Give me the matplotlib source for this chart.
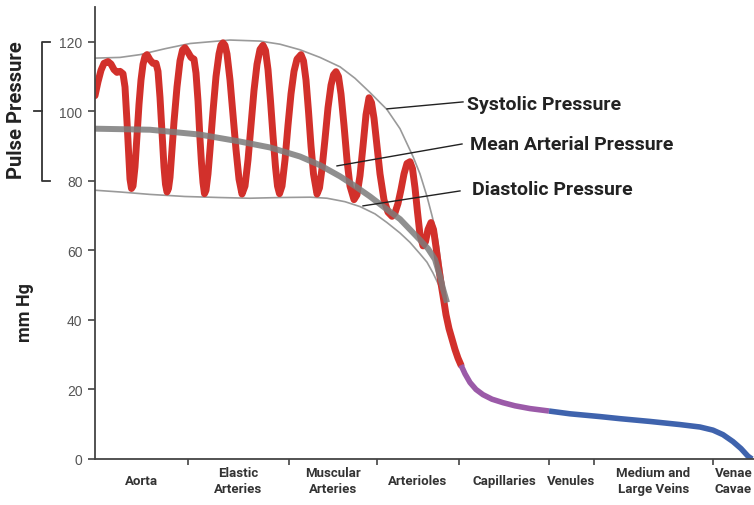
import matplotlib
matplotlib.use('Agg')
import matplotlib.pyplot as plt

# x positions are read in reference pixels (axis runs 95..754), y in mmHg
red_x = [95, 98, 101, 104, 108, 111, 114, 117, 120, 123,
         125, 127, 129, 130, 131.5, 133,
         135, 137, 139, 141, 143, 145, 147,
         150, 153, 156, 158,
         160, 162, 164, 165.5, 167, 168.5,
         170, 172, 174, 177, 180, 182.5, 185,
         188, 191, 194, 196,
         198, 200, 201.5, 203, 204.5, 206,
         208, 210, 213, 216, 219, 221, 223,
         225, 227, 230, 233, 236, 239, 242,
         245, 248, 251, 254, 257, 260, 263,
         265.5, 268, 270.5, 273, 275.5, 277.5, 279.5,
         282, 285, 288, 291, 294, 297, 301,
         303.5, 306, 308.5, 311, 313.5, 317,
         319.5, 322, 325, 328, 331, 333.5, 336,
         338.5, 341, 344, 347, 350, 354,
         357, 360, 363, 366, 369,
         371.5, 374, 377, 380, 384, 388, 392,
         395, 398, 401, 404, 407, 410,
         412.5, 415, 417.5, 420, 423,
         425.5, 428, 431,
         433.5, 436, 438.5, 441, 443, 446, 449, 452, 455, 458, 461]
red_y = [104.5, 108.5, 111.8, 113.8, 114.3, 113.6, 112, 111.2, 111.5, 110.8,
         107, 97, 86, 80.5, 77.8, 78.5,
         84, 93, 102, 109, 113.5, 115.8, 116.3,
         114.8, 113.8, 113.8, 111.5,
         104, 94, 84, 79, 76.8, 77.8,
         81, 89, 97, 107, 114.5, 117.6, 118.3,
         117, 115.5, 115, 111,
         103, 92, 85, 79.5, 76.3, 77.3,
         82, 89, 100, 110, 116.5, 119, 119.7,
         119, 116.5, 109, 99, 89, 80.5, 76.2,
         78.5, 86, 96, 106, 113.5, 117.8, 119,
         117.5, 112, 103, 93, 84, 78.5, 76.3,
         78.5, 86, 96, 105, 111.5, 115, 116.3,
         114.5, 109, 100, 90, 82, 76.2,
         78, 83.5, 92, 101, 107.5, 110.5, 111.4,
         110, 105, 96, 86, 78.5, 74.6,
         76, 81.5, 90, 99, 103.9,
         102.5, 98, 90, 82, 74.5, 71, 69.8,
         70.8, 73.5, 77.5, 82, 85, 85.5,
         83.5, 78, 71, 64.5, 61.3,
         62.5, 66, 68,
         66, 61, 55.5, 50.5, 47, 41.5, 37.5, 34.5, 31.5, 29, 27]

purple_x = [461, 465, 470, 476, 483, 492, 503, 515, 530, 549]
purple_y = [27, 24.5, 22, 20, 18.5, 17.2, 16.2, 15.3, 14.5, 13.8]

blue_x = [549, 570, 600, 620, 650, 680, 700, 713, 723, 733, 741, 748, 752]
blue_y = [13.8, 13, 12.2, 11.6, 10.8, 9.9, 9.2, 8.3, 7, 5, 3, 0.8, 0]

sys_x = [95, 120, 140, 165, 190, 230, 260, 280, 300, 320, 340, 355, 370, 387, 400, 413, 420, 427,
         432, 437, 440, 443, 446]
sys_y = [115.3, 115.5, 116.3, 118, 119.5, 120.5, 120.2, 119.3, 117.7, 115.5, 112.8, 109.5, 105.4,
         100.5, 95, 87, 82, 75.5, 70, 64, 58, 52, 46]

dia_x = [95, 120, 150, 185, 220, 250, 280, 310, 327, 345, 360, 375, 387, 400, 410, 420, 427, 433,
         438, 442, 446]
dia_y = [77.3, 76.8, 76.1, 75.5, 75.2, 75.0, 75.2, 75.3, 75.0, 74, 72.6, 70.5, 68, 65, 62.3, 59,
         56.6, 53.5, 50.5, 48, 46]

map_x = [95, 150, 200, 240, 270, 300, 320, 340, 355, 370, 385, 400, 410, 420, 428, 435, 440, 443, 447]
map_y = [95, 94.7, 93.3, 91.3, 89.6, 87, 84.5, 81.3, 78.5, 75.5, 72.2, 69, 66, 63, 60.5, 57.4,
         52.5, 49, 45]

vessels = ['Aorta', 'Elastic\nArteries', 'Muscular\nArteries', 'Arterioles', 'Capillaries',
           'Venules', 'Medium and\nLarge Veins', 'Venae\nCavae']
bounds = [95, 188, 289, 377, 459, 549, 594, 713, 754]

fig = plt.figure(figsize=(7.54, 5.06), dpi=100)
ax = fig.add_axes([95 / 754, 46 / 506, 659 / 754, 452 / 506])

ax.plot(sys_x, sys_y, color='#9a9a9a', lw=1.2)
ax.plot(dia_x, dia_y, color='#9a9a9a', lw=1.2)
ax.plot(red_x, red_y, color='#d2302b', lw=5, solid_joinstyle='round', solid_capstyle='round')
ax.plot(map_x, map_y, color='#7c7c7c', lw=4.3, alpha=0.85, solid_capstyle='butt')
ax.plot(purple_x, purple_y, color='#9b5aa8', lw=4, solid_capstyle='butt')
ax.plot(blue_x, blue_y, color='#3f63ad', lw=4, solid_capstyle='butt')

ax.set_xlim(95, 754)
ax.set_ylim(0, 130)

for s in ['top', 'right']:
    ax.spines[s].set_visible(False)
for s in ['left', 'bottom']:
    ax.spines[s].set_color('#444444')
    ax.spines[s].set_linewidth(1.3)

ax.set_yticks(range(0, 121, 20))
ax.tick_params(axis='y', length=5, width=1.2, color='#444444', labelcolor='#555555',
               labelsize=10, pad=4)
for lab in ax.get_yticklabels():
    lab.set_family('Liberation Sans')
ax.set_xticks(bounds[1:-1])
ax.set_xticklabels([])
ax.tick_params(axis='x', length=4, width=1.2, color='#444444')

# vessel names between the tick marks
for i, name in enumerate(vessels):
    xc = (bounds[i] + bounds[i + 1]) / 2
    ax.text(xc, -22 / 452, name, transform=ax.get_xaxis_transform(), ha='center', va='center',
            fontsize=9.5, fontweight='bold', family='Roboto', color='#333333', linespacing=1.3)

# leader lines and their labels
ax.plot([387, 463], [100.7, 102.7], color='#222222', lw=1)
ax.plot([337, 462], [84.3, 90.6], color='#222222', lw=1)
ax.plot([363, 460], [72.8, 77.1], color='#222222', lw=1)
ax.text(467, 102.1, 'Systolic Pressure', ha='left', va='center', fontsize=14,
        fontweight='bold', family='Roboto', color='#222222')
ax.text(470, 90.6, 'Mean Arterial Pressure', ha='left', va='center', fontsize=14,
        fontweight='bold', family='Roboto', color='#222222')
ax.text(472, 77.7, 'Diastolic Pressure', ha='left', va='center', fontsize=14,
        fontweight='bold', family='Roboto', color='#222222')

# pulse pressure bracket
ax.plot([50, 42, 42, 50], [120, 120, 80, 80], color='#333333', lw=1.3, clip_on=False)
ax.plot([34, 42], [100, 100], color='#333333', lw=1.3, clip_on=False)

fig.text(17 / 754, 1 - 110 / 506, 'Pulse Pressure', rotation=90, ha='center', va='center',
         fontsize=14.5, fontweight='bold', family='Roboto', color='#222222')
fig.text(25 / 754, 1 - 313 / 506, 'mm Hg', rotation=90, ha='center', va='center',
         fontsize=13, fontweight='bold', family='Roboto', color='#222222')

fig.savefig('out.png', dpi=100)
